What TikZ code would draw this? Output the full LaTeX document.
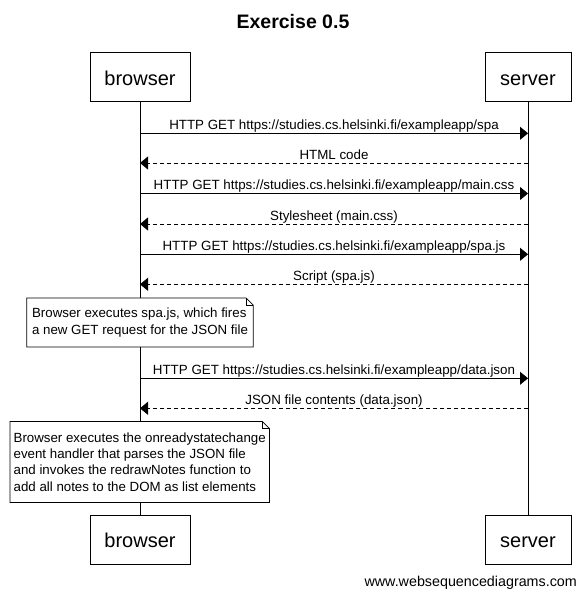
\documentclass[tikz,border=0pt]{standalone}
\usepackage{fontspec}
\setmainfont{Liberation Sans}
\usetikzlibrary{arrows.meta}
\begin{document}
\begin{tikzpicture}[x=1pt,y=-1pt,
  actor/.style={draw, line width=0.8pt, fill=white, minimum height=49pt, inner sep=0pt, text height=15.4pt, text depth=0pt, font=\fontsize{20}{24}\selectfont},
  life/.style={line width=0.8pt},
  msg/.style={line width=0.8pt, -{Triangle[length=8pt,width=13pt]}},
  reply/.style={msg, dash pattern=on 4pt off 3pt},
  lbl/.style={anchor=base, yshift=4pt, inner sep=0pt, font=\fontsize{13.35}{16}\selectfont, solid},
  note/.style={fill=white, inner sep=0pt, align=left, font=\fontsize{13.3}{16.3}\selectfont},
  notefrm/.style={line width=0.8pt}
]
\useasboundingbox (0,0) rectangle (586,598);

\node[font=\bfseries\fontsize{19.5}{23}\selectfont] (title) at (293,22) {Exercise 0.5};

\node[actor, minimum width=100pt] (bt) at (140,77.3) {browser};
\node[actor, minimum width=86pt] (st) at (528,77.3) {server};
\node[actor, minimum width=100pt] (bb) at (140,540) {browser};
\node[actor, minimum width=86pt] (sb) at (528,540) {server};

\draw[life] (bt.south) -- (bb.north);
\draw[life] (st.south) -- (sb.north);

% message rows
\foreach \i/\y in {1/133.3, 2/163, 3/193.5, 4/224, 5/254.3, 6/284.3, 7/378.3, 8/408.3} {
  \coordinate (b\i) at (140,\y);
  \coordinate (s\i) at (528,\y);
}

\draw[msg] (b1) -- node[lbl] {HTTP GET https://studies.cs.helsinki.fi/exampleapp/spa} (s1);
\draw[reply] (s2) -- node[lbl] {HTML code} (b2);
\draw[msg] (b3) -- node[lbl] {HTTP GET https://studies.cs.helsinki.fi/exampleapp/main.css} (s3);
\draw[reply] (s4) -- node[lbl] {Stylesheet (main.css)} (b4);
\draw[msg] (b5) -- node[lbl] {HTTP GET https://studies.cs.helsinki.fi/exampleapp/spa.js} (s5);
\draw[reply] (s6) -- node[lbl] {Script (spa.js)} (b6);
\draw[msg] (b7) -- node[lbl] {HTTP GET https://studies.cs.helsinki.fi/exampleapp/data.json} (s7);
\draw[reply] (s8) -- node[lbl] {JSON file contents (data.json)} (b8);

% notes
\node[note, minimum width=226pt, minimum height=48.5pt] (n1) at (140,322.5)
  {Browser executes spa.js, which fires\\a new GET request for the JSON file};
\node[note, minimum width=259pt, minimum height=80.5pt] (n2) at (139.7,462)
  {Browser executes the onreadystatechange\\event handler that parses the JSON file\\and invokes the redrawNotes function to\\add all notes to the DOM as list elements};

\foreach \n in {n1,n2} {
  \draw[notefrm] (\n.north west) -- ([xshift=-7pt]\n.north east) -- ([yshift=-7pt]\n.north east)
     -- (\n.south east) -- (\n.south west) -- cycle;
  \draw[notefrm] ([xshift=-7pt]\n.north east) -- ([xshift=-7pt,yshift=-7pt]\n.north east) -- ([yshift=-7pt]\n.north east);
}

\node[anchor=east, inner sep=0pt, font=\fontsize{14.3}{17}\selectfont] (web) at (577,583) {www.websequencediagrams.com};
\end{tikzpicture}
\end{document}
